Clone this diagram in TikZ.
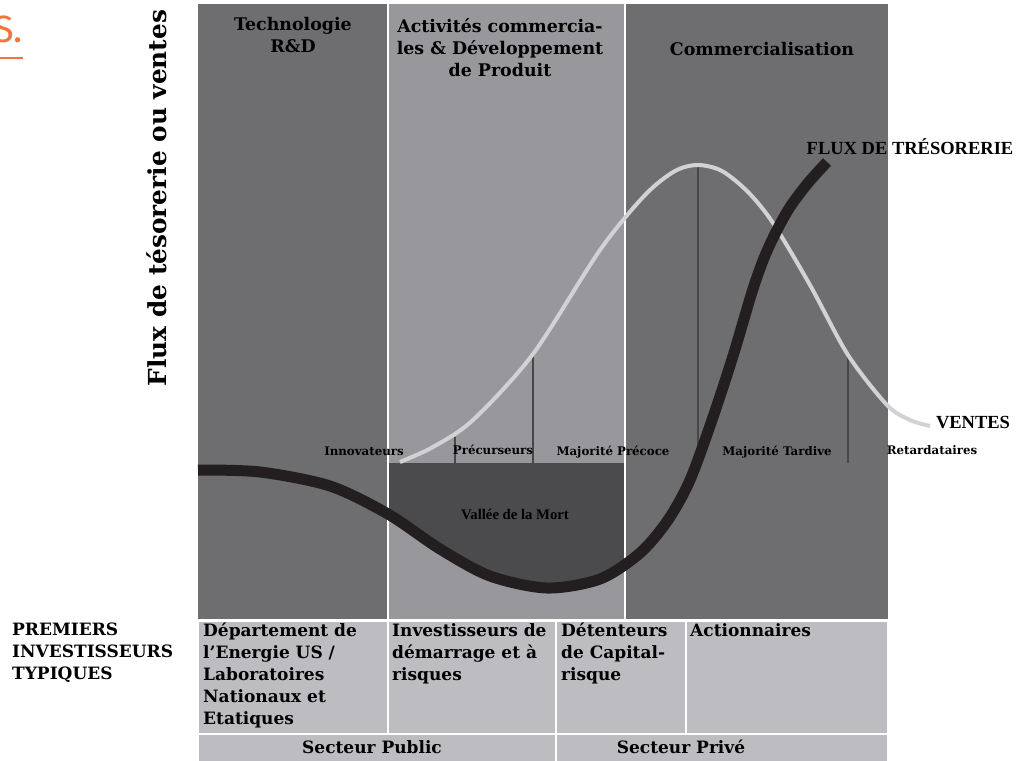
\documentclass[tikz,border=0pt]{standalone}
\usepackage{fontspec}
\newfontfamily\phasefont{DejaVu Serif}
\newfontfamily\curvefont{Liberation Serif}
\newfontfamily\logofont{Fira Sans}
\usetikzlibrary{positioning}
\definecolor{panelgray}{HTML}{6E6E70}
\definecolor{devgray}{HTML}{98989C}
\definecolor{valleygray}{HTML}{4B4B4D}
\definecolor{tablegray}{HTML}{BDBDC1}
\definecolor{cashblack}{HTML}{231F20}
\definecolor{salesgray}{HTML}{D2D2D4}
\definecolor{logoorange}{HTML}{F0763A}
\tikzset{
    phase/.style = {font=\phasefont\bfseries\fontsize{17.4}{22}\selectfont, align=center, inner sep=0pt},
    adopter/.style = {font=\phasefont\bfseries\fontsize{11.8}{13}\selectfont, inner sep=0pt},
    funder/.style = {font=\phasefont\bfseries\fontsize{17}{22}\selectfont, align=left, anchor=north west, inner sep=0pt},
    sector/.style = {font=\phasefont\bfseries\fontsize{17}{19}\selectfont, inner sep=0pt},
    curvelabel/.style = {font=\curvefont\bfseries\fontsize{18.5}{20}\selectfont, inner sep=0pt},
    cell/.style = {fill=tablegray, draw=white, line width=2pt},
    cashflow/.style = {draw=cashblack, line width=11pt},
    sales/.style = {draw=salesgray, line width=4pt},
    segline/.style = {draw=black!72, line width=1.2pt}}

\begin{document}
\begin{tikzpicture}[x=1pt,y=-1pt]
        \clip (0,0) rectangle (1032,760);
        % phases
        \fill[panelgray] (198,4) rectangle (388,619);
        \fill[devgray] (388,4) rectangle (625,619);
        \fill[panelgray] (625,4) rectangle (888,619);
        \path (198,470) coordinate (cf0)
        (260,472) coordinate (cf1)
        (330,486) coordinate (cf2)
        (388,514) coordinate (cf3)
        (440,549) coordinate (cf4)
        (490,576) coordinate (cf5)
        (547,588) coordinate (cf6)
        (600,579) coordinate (cf7)
        (640,553) coordinate (cf8)
        (668,520) coordinate (cf9)
        (690,480) coordinate (cf10)
        (712,420) coordinate (cf11)
        (733,356) coordinate (cf12)
        (752,292) coordinate (cf13)
        (764,258) coordinate (cf14)
        (776,232) coordinate (cf15)
        (790,207) coordinate (cf16)
        (808,183) coordinate (cf17)
        (827,162) coordinate (cf18);
        \begin{scope}
            \clip (388,463) rectangle (625,619);
            \fill[valleygray] plot[smooth] coordinates {(cf0) (cf1) (cf2) (cf3) (cf4) (cf5) (cf6) (cf7) (cf8) (cf9) (cf10)} -- (690,400) -- (198,400) -- cycle;
        \end{scope}
        \draw[white, line width=2pt] (388,4) -- (388,619) (625,4) -- (625,619);
        \node[phase] (tech) at (293,35) {Technologie\\R\&D};
        \node[phase] (dev) at (500,48) {Activités commercia-\\les \& Développement\\de Produit};
        \node[phase] (comm) at (762,49) {Commercialisation};
        \node[font=\phasefont\bfseries\fontsize{24.8}{26}\selectfont, rotate=90, inner sep=0pt] (axis) at (157,198) {Flux de tésorerie ou ventes};
        % adoption curve
        \draw[segline] (455,463) -- (455,437) (533,463) -- (533,354) (698,463) -- (698,165) (848,463) -- (848,356);
        \draw[sales] plot[smooth] coordinates {(400,462) (433,447) (473,420) (533,354) (600,250) (645,195) (675,171) (698,165) (722,171) (748,192) (773,223) (810,285) (848,355) (887,405) (910,420) (930,426)};
        \node[adopter] (innov) at (364,451) {Innovateurs};
        \node[adopter] (precur) at (493,450) {Précurseurs};
        \node[adopter] (early) at (613,452) {Majorité Précoce};
        \node[adopter] (late) at (777,452) {Majorité Tardive};
        \node[adopter] (lag) at (932,450) {Retardataires};
        \node[curvelabel, font=\curvefont\bfseries\fontsize{14.7}{16}\selectfont] (valley) at (515,514) {Vallée de la Mort};
        % cash flow
        \draw[cashflow] plot[smooth] coordinates {(cf0) (cf1) (cf2) (cf3) (cf4) (cf5) (cf6) (cf7) (cf8) (cf9) (cf10) (cf11) (cf12) (cf13) (cf14) (cf15) (cf16) (cf17) (cf18)};
        \node[curvelabel] (cashlbl) at (910,147) {FLUX DE TRÉSORERIE};
        \node[curvelabel] (saleslbl) at (973,423) {VENTES};
        % investors
        \draw[cell] (198,621) rectangle (388,734) (388,621) rectangle (556,734) (556,621) rectangle (686,734) (686,621) rectangle (888,734);
        \draw[cell] (198,734) rectangle (556,762) (556,734) rectangle (888,762);
        \node[funder] (typ) at (12,623) {PREMIERS\\INVESTISSEURS\\TYPIQUES};
        \node[funder] (doe) at (203,623) {Département de\\l’Energie US /\\Laboratoires\\Nationaux et\\Etatiques};
        \node[funder] (seed) at (392,623) {Investisseurs de\\démarrage et à\\risques};
        \node[funder] (vc) at (561,623) {Détenteurs\\de Capital-\\risque};
        \node[funder] (share) at (690,623) {Actionnaires};
        \node[sector] (public) at (372,747) {Secteur Public};
        \node[sector] (private) at (681,747) {Secteur Privé};
        \node[font=\logofont\fontsize{38}{40}\selectfont, text=logoorange, anchor=base west, inner sep=0pt] (logo) at (-7,43) {S.};
        \draw[logoorange, line width=1.5pt] (0,58) -- (23,58);
    \end{tikzpicture}
\end{document}
